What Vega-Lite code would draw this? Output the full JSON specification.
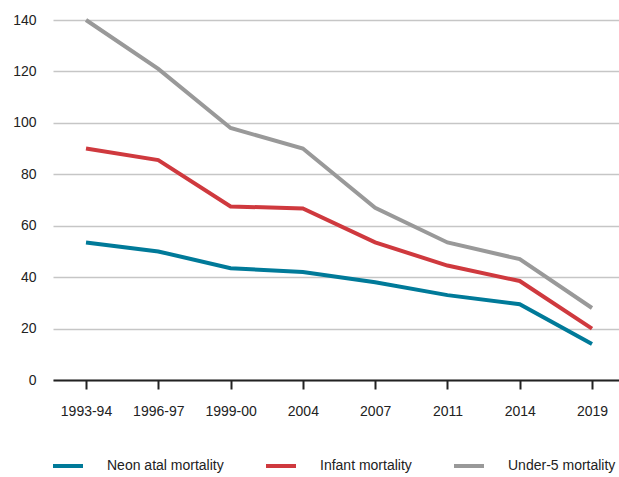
{
  "$schema": "https://vega.github.io/schema/vega-lite/v6.json",
  "width": 572,
  "height": 360,
  "padding": {"left": 12, "top": 12, "right": 0, "bottom": 0},
  "autosize": {"type": "pad"},
  "config": {
    "view": {"stroke": null},
    "font": "Liberation Sans",
    "axis": {"labelFont": "Liberation Sans", "labelColor": "#222222", "titleFont": "Liberation Sans"},
    "legend": {"labelFont": "Liberation Sans"}
  },
  "data": {
    "values": [
      {"period": "1993-94", "series": "Neon atal mortality", "value": 53.5},
      {"period": "1996-97", "series": "Neon atal mortality", "value": 50},
      {"period": "1999-00", "series": "Neon atal mortality", "value": 43.5},
      {"period": "2004", "series": "Neon atal mortality", "value": 42},
      {"period": "2007", "series": "Neon atal mortality", "value": 38},
      {"period": "2011", "series": "Neon atal mortality", "value": 33},
      {"period": "2014", "series": "Neon atal mortality", "value": 29.5},
      {"period": "2019", "series": "Neon atal mortality", "value": 14},
      {"period": "1993-94", "series": "Infant mortality", "value": 90},
      {"period": "1996-97", "series": "Infant mortality", "value": 85.5},
      {"period": "1999-00", "series": "Infant mortality", "value": 67.5},
      {"period": "2004", "series": "Infant mortality", "value": 66.7},
      {"period": "2007", "series": "Infant mortality", "value": 53.5},
      {"period": "2011", "series": "Infant mortality", "value": 44.5},
      {"period": "2014", "series": "Infant mortality", "value": 38.5},
      {"period": "2019", "series": "Infant mortality", "value": 20},
      {"period": "1993-94", "series": "Under-5 mortality", "value": 140},
      {"period": "1996-97", "series": "Under-5 mortality", "value": 121},
      {"period": "1999-00", "series": "Under-5 mortality", "value": 98},
      {"period": "2004", "series": "Under-5 mortality", "value": 90},
      {"period": "2007", "series": "Under-5 mortality", "value": 67},
      {"period": "2011", "series": "Under-5 mortality", "value": 53.5},
      {"period": "2014", "series": "Under-5 mortality", "value": 47},
      {"period": "2019", "series": "Under-5 mortality", "value": 28}
    ]
  },
  "mark": {"type": "line", "strokeWidth": 4, "strokeJoin": "miter", "strokeCap": "butt"},
  "encoding": {
    "x": {
      "field": "period",
      "type": "ordinal",
      "sort": null,
      "scale": {"type": "point", "padding": 0.4565},
      "axis": {
        "title": null,
        "labelAngle": 0,
        "labelFontSize": 14,
        "domainColor": "#222222",
        "domainWidth": 2,
        "tickColor": "#222222",
        "tickWidth": 2,
        "tickSize": 9,
        "labelPadding": 15,
        "grid": false
      }
    },
    "y": {
      "field": "value",
      "type": "quantitative",
      "scale": {"domain": [0, 140], "nice": false},
      "axis": {
        "title": null,
        "values": [0, 20, 40, 60, 80, 100, 120, 140],
        "domain": false,
        "ticks": false,
        "tickSize": 0,
        "labelPadding": 17,
        "labelFontSize": 14,
        "gridColor": "#c6c6c6",
        "gridWidth": 1.5
      }
    },
    "color": {
      "field": "series",
      "type": "nominal",
      "sort": ["Neon atal mortality", "Infant mortality", "Under-5 mortality"],
      "scale": {
        "domain": ["Neon atal mortality", "Infant mortality", "Under-5 mortality"],
        "range": ["#007a99", "#cf393e", "#999999"]
      },
      "legend": {
        "title": null,
        "orient": "none",
        "legendX": -2,
        "legendY": 429,
        "direction": "horizontal",
        "symbolType": "stroke",
        "symbolSize": 900,
        "symbolStrokeWidth": 4,
        "labelFontSize": 14,
        "labelColor": "#222222",
        "labelOffset": 22,
        "columnPadding": 34
      }
    }
  }
}
